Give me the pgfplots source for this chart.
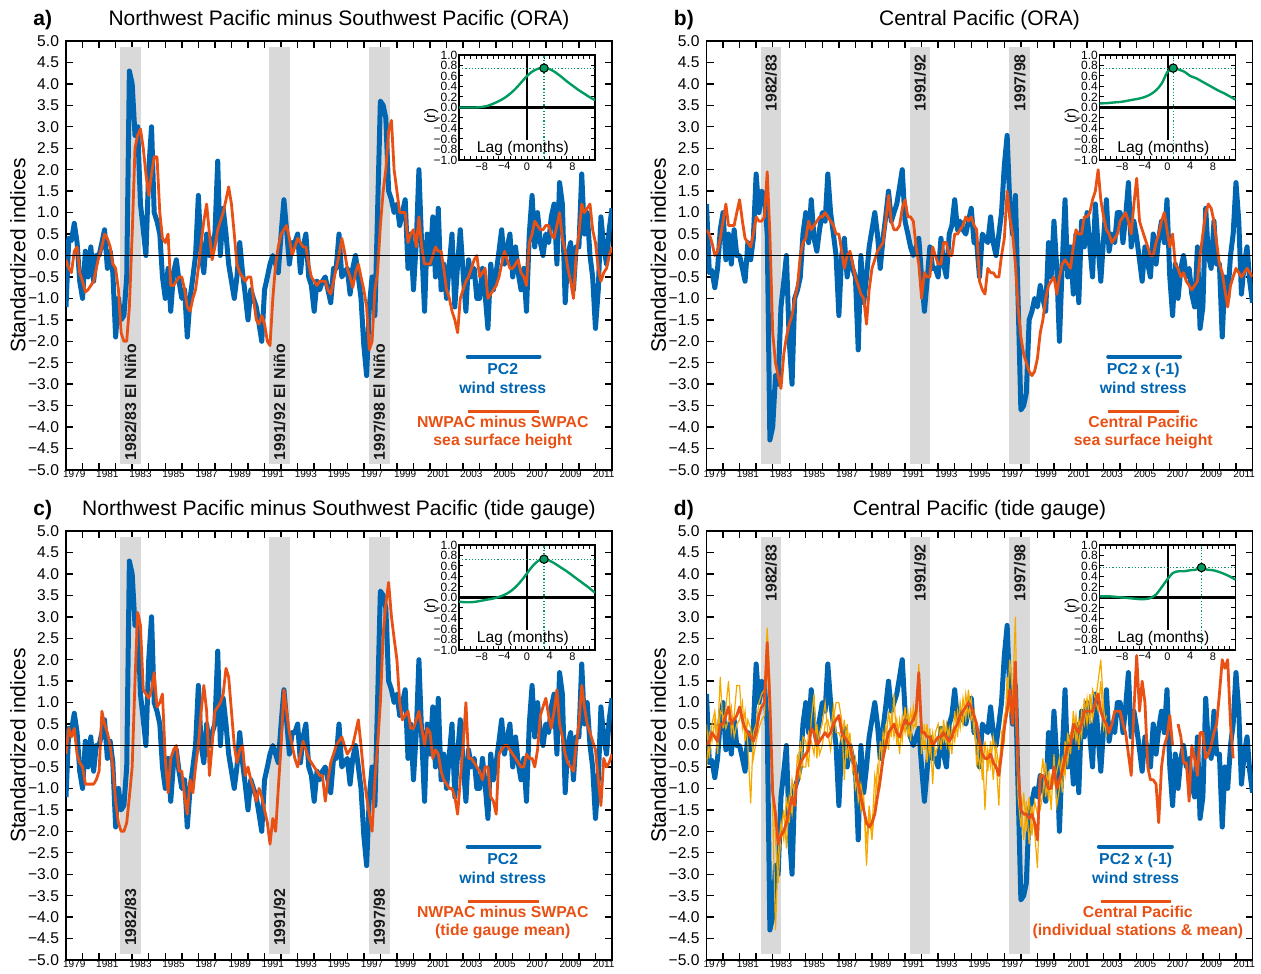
\documentclass[border=0pt]{standalone}
\usepackage{fontspec}
\setmainfont{Liberation Sans}
\usepackage{pgfplots}
\usepackage{pgfplotstable}
\pgfplotsset{compat=1.18}
\definecolor{pcblue}{RGB}{0,102,178}
\definecolor{sshorange}{RGB}{232,80,20}
\definecolor{stayellow}{RGB}{245,168,0}
\definecolor{corrgreen}{RGB}{0,155,95}
\definecolor{bandgray}{RGB}{217,217,217}

\pgfplotstableread{
t pc2 oa ob oc od s1 s2
1979.00 -1.2 -0.1 0.6 -0.2 0.0 0.5 -0.5
1979.17 0.4 -0.3 0.5 0.4 0.1 -0.3 0.3
1979.33 0.35 -0.4 0.3 0.2 0.3 0.5 0.1
1979.50 0.75 0.1 0.0 0.4 0.2 0.8 0.6
1979.67 0.3 0.2 0.1 -0.2 0.1 0.2 -0.2
1979.83 -0.6 -0.4 0.4 -0.4 0.5 1.6 0.8
1980.00 -1.0 -0.6 0.8 -0.5 0.5 0.4 0.7
1980.17 0.1 -0.85 1.2 -0.9 0.7 0.9 0.4
1980.33 -0.5 -0.8 0.7 -0.9 0.9 1.5 0.6
1980.50 0.2 -0.7 0.7 -0.9 0.5 0.3 0.9
1980.67 -0.6 -0.6 0.7 -0.9 0.6 0.7 0.2
1980.83 0.0 -0.3 1.0 -0.8 0.7 1.4 0.5
1981.00 0.0 0.0 1.3 -0.6 0.9 1.4 0.6
1981.17 0.3 0.2 0.8 0.8 0.6 0.4 1.0
1981.33 0.6 0.5 0.4 0.5 0.4 0.8 0.1
1981.50 -0.3 0.4 0.3 0.3 0.3 0.0 0.6
1981.67 0.1 0.2 0.2 0.0 0.2 -1.35 0.4
1981.83 -0.4 -0.2 0.5 -0.5 0.1 0.3 -0.3
1982.00 -1.9 -0.3 0.9 -1.3 0.3 0.5 0.1
1982.17 -1.0 -0.8 0.8 -1.8 0.7 1.0 0.4
1982.33 -1.5 -1.8 0.8 -2.0 0.9 1.2 0.6
1982.50 -1.4 -2.0 0.9 -2.0 1.0 1.3 0.7
1982.67 -0.5 -2.0 1.95 -1.8 2.4 2.75 2.2
1982.83 4.3 -1.2 0.5 -1.2 1.0 1.5 0.6
1983.00 4.0 0.5 -1.8 -0.5 -1.1 -1.5 -0.8
1983.17 2.8 2.5 -2.5 1.5 -1.6 -4.3 -2.2
1983.33 3.0 2.8 -2.8 3.1 -2.3 -2.5 -3.2
1983.50 1.2 2.95 -3.1 2.8 -2.1 -1.8 -2.0
1983.67 0.6 2.5 -2.3 1.3 -2.0 -2.2 -1.5
1983.83 0.0 1.9 -1.9 1.2 -1.8 -1.2 -2.4
1984.00 2.0 1.4 -1.6 1.1 -1.5 -1.8 -1.2
1984.17 3.0 1.9 -1.4 1.3 -1.2 -0.8 -1.6
1984.33 1.0 2.3 -1.0 1.7 -1.4 -1.2 -0.9
1984.50 0.8 2.3 -0.7 0.9 -0.6 -0.2 -0.9
1984.67 0.5 1.0 0.0 1.0 -0.4 -0.8 0.1
1984.83 -0.5 0.4 0.3 1.2 -0.3 0.2 -0.5
1985.00 -1.0 0.3 0.4 -0.3 -0.2 0.1 -0.5
1985.17 -0.3 0.5 0.8 -1.1 -0.1 -0.5 0.3
1985.33 -1.3 -0.7 0.6 -0.3 0.4 0.6 0.1
1985.50 -0.4 -0.7 0.7 -0.1 0.3 1.2 -0.2
1985.67 -0.1 -0.6 0.8 0.0 0.0 -0.3 0.5
1985.83 -0.6 -0.5 0.9 -0.6 0.1 0.3 -0.2
1986.00 -1.0 -0.5 0.9 -0.6 0.2 0.5 0.0
1986.17 -0.8 -0.8 1.0 -1.2 0.3 1.0 0.5
1986.33 -1.9 -1.2 0.9 -1.6 0.2 0.3 0.6
1986.50 -1.0 -1.3 0.8 -0.8 0.3 -0.1 0.3
1986.67 -0.5 -1.0 0.7 -1.1 0.5 0.6 0.9
1986.83 0.0 -0.8 0.5 -0.5 0.6 1.0 0.3
1987.00 1.4 -0.3 0.5 0.0 0.7 1.0 0.3
1987.17 0.0 0.3 0.1 0.8 0.3 0.6 0.1
1987.33 -0.4 0.8 -0.3 1.4 0.2 -0.8 0.6
1987.50 0.5 1.2 0.0 0.8 0.1 0.5 -0.3
1987.67 0.0 0.5 0.1 -0.7 0.0 -0.3 0.3
1987.83 0.3 -0.1 -0.2 0.0 -0.3 -0.1 -0.6
1988.00 0.5 0.2 -0.5 0.8 -0.6 -1.0 -0.3
1988.17 2.2 0.6 -0.7 0.9 -0.9 -0.7 -1.3
1988.33 0.0 0.8 -0.9 1.0 -1.2 -1.5 -0.9
1988.50 1.1 1.0 -1.0 1.2 -1.5 -1.2 -1.3
1988.67 0.5 1.3 -1.6 1.8 -1.8 -2.8 -2.3
1988.83 -0.2 1.6 -0.8 1.6 -1.9 -1.6 -1.4
1989.00 -0.6 1.2 -0.3 0.8 -1.8 -2.2 -2.0
1989.17 -1.0 0.5 -0.1 0.0 -1.6 -1.4 -0.7
1989.33 -0.5 -0.2 0.1 -0.4 -1.2 -0.5 -1.1
1989.50 0.3 -0.4 0.2 -0.1 -0.8 -0.9 0.1
1989.67 -0.4 -0.5 0.3 0.0 -0.3 0.3 -0.4
1989.83 -0.9 -0.6 0.8 -0.7 0.0 0.0 0.5
1990.00 -1.5 -0.5 1.4 -0.5 0.3 0.8 -0.1
1990.17 -0.8 -0.5 0.8 -0.8 0.4 0.2 0.7
1990.33 -1.0 -1.0 0.6 -1.0 0.5 1.2 0.2
1990.50 -1.2 -1.5 0.6 -1.3 0.3 0.0 0.6
1990.67 -1.6 -1.6 0.7 -1.0 0.2 0.6 -0.2
1990.83 -2.0 -1.4 1.1 -1.2 0.4 0.1 0.7
1991.00 -0.8 -1.6 1.3 -1.5 0.6 0.9 0.3
1991.17 -0.5 -2.0 0.9 -1.8 0.5 0.2 0.8
1991.33 -0.2 -2.1 0.9 -2.3 0.5 0.8 0.1
1991.50 0.0 -1.0 0.8 -1.7 0.6 0.4 0.9
1991.67 -0.2 -0.2 0.2 -2.0 0.8 0.6 0.4
1991.83 -0.4 0.2 -0.2 -1.0 1.7 1.9 1.5
1992.00 0.5 0.5 -1.0 0.0 0.3 -0.2 0.6
1992.17 1.3 0.6 -0.4 1.3 0.3 0.5 -0.1
1992.33 0.6 0.7 -0.5 0.8 0.2 -0.4 0.5
1992.50 -0.2 0.4 -0.5 0.3 0.2 0.4 -0.2
1992.67 0.3 0.0 0.2 0.0 0.0 -0.9 0.3
1992.83 0.3 0.2 0.0 -0.3 0.1 0.3 -0.2
1993.00 0.5 0.4 -0.2 -0.5 0.2 0.5 0.0
1993.17 -0.4 0.3 -0.2 -0.2 0.2 -0.1 0.4
1993.33 0.2 0.2 0.3 0.1 0.3 0.6 0.1
1993.50 0.5 0.2 0.3 -0.1 0.2 0.0 0.5
1993.67 -0.5 -0.2 0.0 -0.3 0.1 0.4 -0.1
1993.83 -0.7 -0.5 0.0 -0.4 0.2 -0.2 0.4
1994.00 -1.3 -0.6 0.5 -0.5 0.4 0.8 0.1
1994.17 -0.6 -0.7 0.5 -0.6 0.5 0.2 0.8
1994.33 -0.8 -0.6 0.6 -0.7 0.7 1.0 0.4
1994.50 -0.6 -0.6 0.7 -0.7 0.8 0.5 1.1
1994.67 -0.5 -0.6 0.9 -1.3 0.9 1.2 0.6
1994.83 -0.8 -0.8 0.8 -0.8 1.0 0.7 1.3
1995.00 -1.1 -0.9 0.9 -0.4 0.9 1.1 0.6
1995.17 -0.3 -0.6 0.7 -0.2 0.7 0.3 0.8
1995.33 -0.3 -0.3 0.6 0.0 0.5 0.1 -0.5
1995.50 0.5 0.0 -0.6 0.1 0.1 -0.5 0.2
1995.67 -0.5 0.4 -0.8 0.2 -0.2 0.0 -0.8
1995.83 -0.4 0.1 -0.9 0.0 -0.3 -1.5 0.1
1996.00 -0.3 -0.3 -0.3 -0.2 -0.3 -0.1 -0.6
1996.17 -0.9 -0.5 -0.4 -0.1 -0.2 -0.5 0.1
1996.33 -0.3 -0.75 -0.4 0.0 -0.4 0.2 -0.8
1996.50 0.0 -0.4 -0.5 0.3 -0.5 -0.3 0.0
1996.67 -0.5 -0.2 -0.5 0.6 -0.7 -1.4 -0.5
1996.83 -1.0 -0.5 0.0 0.0 -0.2 0.3 0.1
1997.00 -2.1 -0.8 0.4 -0.7 0.4 0.1 0.7
1997.17 -2.8 -1.2 1.5 -1.2 0.8 1.6 0.9
1997.33 -1.2 -2.2 0.9 -1.6 1.3 0.8 2.0
1997.50 -0.5 -2.0 0.5 -2.0 0.5 1.2 1.2
1997.67 -1.4 -0.8 -0.2 -0.8 1.95 3.0 1.0
1997.83 1.0 -0.4 -1.2 0.0 -0.5 -1.0 -1.2
1998.00 3.6 0.7 -1.9 1.0 -1.5 -1.2 -1.9
1998.17 3.5 1.5 -2.3 2.6 -1.6 -2.2 -1.1
1998.33 3.2 2.0 -2.5 3.3 -1.6 -1.3 -2.0
1998.50 1.5 2.9 -2.7 3.8 -1.7 -2.3 -1.2
1998.67 1.3 3.15 -2.8 3.0 -1.6 -1.4 -2.1
1998.83 1.0 2.0 -2.7 2.5 -1.8 -2.0 -1.3
1999.00 1.2 1.5 -2.4 2.0 -2.2 -2.85 -1.6
1999.17 0.7 1.0 -1.8 1.0 -0.7 -0.9 -1.5
1999.33 1.0 1.0 -1.5 0.6 -0.7 -0.3 -1.1
1999.50 1.3 1.0 -1.0 0.7 -0.8 -1.2 -0.4
1999.67 -0.3 0.3 -0.7 0.8 -1.0 -0.6 -1.3
1999.83 0.5 0.5 -0.6 0.4 -1.0 -1.5 -0.7
2000.00 -0.8 0.6 -0.5 0.4 -0.5 -0.2 -0.9
2000.17 0.3 0.2 -0.9 0.6 -1.0 -1.4 -0.6
2000.33 2.0 0.9 -0.5 0.8 -0.8 -1.0 -0.3
2000.50 0.2 0.2 -0.2 0.4 -0.6 -0.3 -1.1
2000.67 -1.3 -0.2 -0.1 0.0 -0.3 -0.7 0.1
2000.83 0.5 -0.2 -0.2 0.4 0.0 0.3 -0.4
2001.00 -0.2 -0.2 -0.3 0.3 0.0 -0.2 0.3
2001.17 0.9 0.0 0.2 -0.3 0.5 0.8 0.2
2001.33 -0.5 0.2 0.6 -0.1 0.4 0.1 0.7
2001.50 1.1 0.1 0.5 -0.2 0.3 0.6 -0.1
2001.67 -0.8 0.1 0.5 -0.6 0.5 0.2 0.8
2001.83 -0.2 -0.3 0.9 -0.8 0.8 1.1 0.5
2002.00 -1.0 -0.8 0.9 -0.9 0.8 0.5 1.1
2002.17 -0.2 -1.0 1.0 -1.0 0.8 1.2 0.5
2002.33 0.5 -1.3 1.3 -1.0 0.8 0.6 1.3
2002.50 -1.2 -1.5 1.5 -1.2 1.0 1.0 1.1
2002.67 -0.2 -1.8 2.0 -1.6 1.2 1.5 0.8
2002.83 0.6 -1.0 1.3 -0.8 0.8 2.0 1.5
2003.00 -0.4 -0.8 0.9 0.0 0.6 0.9 0.4
2003.17 -1.3 -0.6 0.6 1.0 0.5 0.2 0.7
2003.33 -0.1 -0.5 0.5 -0.3 0.3 nan nan
2003.50 -0.5 -0.3 0.3 -0.3 0.5 nan nan
2003.67 -0.3 -0.1 0.4 -0.4 0.8 nan nan
2003.83 -1.0 0.0 0.5 -0.5 0.8 nan nan
2004.00 -1.0 -0.5 0.8 -0.6 0.8 nan nan
2004.17 -0.3 -0.4 0.9 -0.8 0.5 nan nan
2004.33 -0.9 -0.3 1.0 -0.5 0.3 nan nan
2004.50 -1.7 -1.0 0.8 -0.5 -0.2 nan nan
2004.67 -0.2 -0.9 0.5 -1.2 -0.7 nan nan
2004.83 -0.8 -0.8 1.2 -1.3 0.8 nan nan
2005.00 -0.4 -0.7 1.8 -1.6 2.1 nan nan
2005.17 0.1 -0.5 0.8 -0.2 0.8 nan nan
2005.33 0.6 -0.2 0.6 -0.1 1.5 nan nan
2005.50 -0.2 0.1 0.4 0.0 1.0 nan nan
2005.67 0.2 -0.1 0.2 0.0 -0.5 nan nan
2005.83 0.5 -0.3 0.0 -0.1 -0.8 nan nan
2006.00 -0.5 -0.3 0.0 -0.2 -0.8 nan nan
2006.17 0.2 -0.2 0.3 -0.3 -0.9 nan nan
2006.33 -0.4 -0.1 0.5 -0.4 -1.8 nan nan
2006.50 -0.8 -0.4 0.8 -0.5 -0.5 nan nan
2006.67 -0.3 -0.5 1.0 -0.5 0.0 nan nan
2006.83 -1.3 -0.7 0.6 -0.2 0.2 nan nan
2007.00 0.5 0.3 0.2 -0.3 0.7 nan nan
2007.17 1.4 0.5 0.5 -0.3 0.0 nan nan
2007.33 0.2 0.8 -0.2 -0.5 nan nan nan
2007.50 1.0 0.7 -0.3 -0.1 0.5 nan nan
2007.67 0.3 0.6 -0.5 0.7 0.2 nan nan
2007.83 0.0 0.6 -0.4 0.9 -0.4 nan nan
2008.00 0.5 0.7 -0.6 1.1 -0.4 nan nan
2008.17 0.3 0.7 -0.7 0.7 -1.3 nan nan
2008.33 0.9 0.5 -0.8 0.4 0.0 nan nan
2008.50 1.2 0.4 -0.7 0.8 -0.3 nan nan
2008.67 -0.2 0.7 -0.6 1.3 -0.7 nan nan
2008.83 1.7 1.0 0.0 0.5 0.3 nan nan
2009.00 1.2 0.4 0.5 0.2 0.3 nan nan
2009.17 -1.1 0.1 1.0 -0.2 -0.3 nan nan
2009.33 0.0 -0.3 1.2 -0.4 -0.2 nan nan
2009.50 0.3 -0.6 1.1 -0.5 0.0 nan nan
2009.67 -0.8 -1.0 0.8 -0.6 0.3 nan nan
2009.83 0.2 0.0 0.3 0.0 0.5 nan nan
2010.00 0.2 0.5 -0.2 0.5 1.2 nan nan
2010.17 1.9 1.2 -0.4 1.4 2.0 nan nan
2010.33 0.5 1.0 -0.8 0.9 1.8 nan nan
2010.50 1.0 1.1 -1.2 0.5 2.0 nan nan
2010.67 0.0 1.2 -0.7 0.3 0.5 nan nan
2010.83 -0.5 0.6 -0.5 0.1 -0.3 nan nan
2011.00 -1.7 0.3 -0.3 -0.1 nan nan nan
2011.17 -0.8 -0.3 -0.4 -0.8 nan nan nan
2011.33 0.9 -0.6 -0.5 -1.4 nan nan nan
2011.50 0.2 -0.4 -0.4 -0.3 nan nan nan
2011.67 -0.2 -0.3 -0.3 -0.5 nan nan nan
2011.83 0.6 0.0 -0.4 -0.4 nan nan nan
2012.00 1.1 0.2 -0.5 -0.2 nan nan nan
}\data

\pgfplotstableread{
lag ra rb rc rd
-12 0.00 0.08 -0.08 0.02
-11 0.00 0.08 -0.09 0.02
-10 0.00 0.09 -0.09 0.02
-9 0.00 0.10 -0.08 0.01
-8 0.01 0.11 -0.06 0.00
-7 0.03 0.13 -0.04 -0.01
-6 0.07 0.15 -0.02 -0.02
-5 0.12 0.17 0.01 -0.03
-4 0.18 0.20 0.05 -0.03
-3 0.26 0.25 0.11 -0.01
-2 0.36 0.33 0.20 0.06
-1 0.48 0.46 0.32 0.20
0 0.60 0.68 0.46 0.35
1 0.69 0.75 0.60 0.47
2 0.74 0.72 0.70 0.50
3 0.75 0.68 0.73 0.50
4 0.73 0.60 0.70 0.52
5 0.67 0.56 0.64 0.53
6 0.59 0.50 0.57 0.57
7 0.50 0.44 0.50 0.53
8 0.42 0.38 0.42 0.52
9 0.34 0.32 0.34 0.49
10 0.27 0.27 0.26 0.45
11 0.20 0.21 0.18 0.40
12 0.14 0.15 0.09 0.34
}\lagdata

\pgfplotsset{
  mainax/.style={
    scale only axis, width=273pt, height=214.5pt,
    xmin=1979, xmax=2012, ymin=-5, ymax=5,
    clip mode=individual,
    axis line style={line width=0.9pt},
    every tick/.style={black, line width=0.7pt},
    major tick length=3.5pt, minor tick length=3.5pt,
    xtick={1980,1981,...,2011}, xticklabels={},
    extra x ticks={1979.5,1981.5,1983.5,1985.5,1987.5,1989.5,1991.5,1993.5,1995.5,1997.5,1999.5,2001.5,2003.5,2005.5,2007.5,2009.5,2011.5},
    extra x tick labels={1979,1981,1983,1985,1987,1989,1991,1993,1995,1997,1999,2001,2003,2005,2007,2009,2011},
    extra x tick style={major tick length=0pt, tick style={draw=none}},
    ytick={-5,-4.5,-4,-3.5,-3,-2.5,-2,-1.5,-1,-0.5,0,0.5,1,1.5,2,2.5,3,3.5,4,4.5,5},
    yticklabels={−5.0,−4.5,−4.0,−3.5,−3.0,−2.5,−2.0,−1.5,−1.0,−0.5,0.0,0.5,1.0,1.5,2.0,2.5,3.0,3.5,4.0,4.5,5.0},
    yticklabel style={font=\fontsize{7.8}{9}\selectfont},
    xticklabel style={font=\fontsize{5}{6}\selectfont, inner sep=0.8pt, yshift=0.6pt},
    ylabel={Standardized indices},
    every axis y label/.style={at={(rel axis cs:-0.088,0.5)}, rotate=90, anchor=center, font=\fontsize{10.5}{12}\selectfont},
  },
  insetax/.style={
    scale only axis, width=68pt, height=52.5pt,
    xmin=-12, xmax=12, ymin=-1, ymax=1,
    clip mode=individual,
    axis line style={line width=0.9pt},
    every tick/.style={black, line width=0.5pt},
    xtick={-8,-4,0,4,8}, xticklabels={−8,−4,0,4,8},
    minor xtick={-12,-11,...,12},
    major tick length=2.2pt, minor tick length=2.2pt,
    ytick={-1,-0.8,-0.6,-0.4,-0.2,0,0.2,0.4,0.6,0.8,1},
    yticklabels={−1.0,−0.8,−0.6,−0.4,−0.2,0.0,0.2,0.4,0.6,0.8,1.0},
    yticklabel style={font=\fontsize{6}{6}\selectfont, inner sep=0.6pt},
    xticklabel style={font=\fontsize{5.5}{6}\selectfont, inner sep=1pt},
    ylabel={(r)},
    every axis y label/.style={at={(rel axis cs:-0.205,0.42)}, rotate=90, anchor=center, font=\fontsize{7.5}{8}\selectfont},
  },
  bands/.style={fill=bandgray, draw=none, forget plot},
  bluel/.style={pcblue, line width=2.5pt, line join=round},
  orl/.style={sshorange, line width=1.4pt, line join=round, unbounded coords=jump},
}
\newcommand\bandfills{%
  \addplot[bands] coordinates {(1982.27,-4.85)(1983.53,-4.85)(1983.53,4.85)(1982.27,4.85)};
  \addplot[bands] coordinates {(1991.27,-4.85)(1992.53,-4.85)(1992.53,4.85)(1991.27,4.85)};
  \addplot[bands] coordinates {(1997.31,-4.85)(1998.58,-4.85)(1998.58,4.85)(1997.31,4.85)};
}
\tikzset{
  bl/.style={rotate=90, font=\bfseries\fontsize{7.9}{9}\selectfont, text=black!90, inner sep=0pt},
  lg/.style={anchor=base, font=\bfseries\fontsize{7.9}{9}\selectfont, inner sep=0pt},
  tt/.style={anchor=base, font=\fontsize{10.5}{12}\selectfont, inner sep=0pt},
  tl/.style={anchor=base west, font=\bfseries\fontsize{10.5}{12}\selectfont, inner sep=0pt},
}
\newcommand\lagdeco[2]{%
  \addplot[black, line width=1.5pt] coordinates {(-12,0)(12,0)};
  \addplot[black, line width=1pt] coordinates {(0,1)(0,-0.62)};
  \addplot[corrgreen, densely dotted, line width=0.6pt] coordinates {(-12,#2)(12,#2)};
  \addplot[corrgreen, densely dotted, line width=0.6pt] coordinates {(#1,-1)(#1,1)};
}
\newcommand\lagpeak[2]{%
  \addplot[only marks, mark=*, mark size=2.1pt, mark options={fill=corrgreen, draw=black, line width=0.5pt}] coordinates {(#1,#2)};
  \node[anchor=base, font=\fontsize{7.8}{8}\selectfont, inner sep=0pt] at (rel axis cs:0.47,0.07) {Lag (months)};
}

\begin{document}
\begin{tikzpicture}
\useasboundingbox (0,0) rectangle (630.5pt,486.5pt);

% ---------------- panel a
\begin{axis}[mainax, at={(33pt,251.5pt)}, anchor=south west]
  \bandfills
  \addplot[bluel] table[x=t,y=pc2]{\data};
  \addplot[orl] table[x=t,y=oa]{\data};
  \addplot[black, line width=0.7pt] coordinates {(1979,0)(2012,0)};
  \node[bl, anchor=west] at (axis cs:1982.9,-4.78) {1982/83 El Niño};
  \node[bl, anchor=west] at (axis cs:1991.9,-4.78) {1991/92 El Niño};
  \node[bl, anchor=west] at (axis cs:1997.94,-4.78) {1997/98 El Niño};
  \draw[pcblue, line width=2.2pt, line cap=round] (rel axis cs:0.736,0.264) -- (rel axis cs:0.867,0.264);
  \node[lg, text=pcblue] at (rel axis cs:0.80,0.223) {PC2};
  \node[lg, text=pcblue] at (rel axis cs:0.80,0.179) {wind stress};
  \draw[sshorange, line width=1.3pt] (rel axis cs:0.736,0.136) -- (rel axis cs:0.866,0.136);
  \node[lg, text=sshorange] at (rel axis cs:0.80,0.0986) {NWPAC minus SWPAC};
  \node[lg, text=sshorange] at (rel axis cs:0.80,0.056) {sea surface height};
  \node[tt] at (rel axis cs:0.5,1.0373) {Northwest Pacific minus Southwest Pacific (ORA)};
  \node[tl] at (rel axis cs:-0.0604,1.0373) {a)};
\end{axis}
\begin{axis}[insetax, at={(229.5pt,406.5pt)}, anchor=south west]
  \lagdeco{3}{0.75}
  \addplot[corrgreen, line width=1.2pt, smooth] table[x=lag,y=ra]{\lagdata};
  \lagpeak{3}{0.75}
\end{axis}

% ---------------- panel b
\begin{axis}[mainax, at={(353.25pt,251.5pt)}, anchor=south west]
  \bandfills
  \addplot[bluel] table[x=t,y expr=-\thisrow{pc2}]{\data};
  \addplot[orl] table[x=t,y=ob]{\data};
  \addplot[black, line width=0.7pt] coordinates {(1979,0)(2012,0)};
  \node[bl, anchor=east] at (axis cs:1982.9,4.7) {1982/83};
  \node[bl, anchor=east] at (axis cs:1991.9,4.7) {1991/92};
  \node[bl, anchor=east] at (axis cs:1997.94,4.7) {1997/98};
  \draw[pcblue, line width=2.2pt, line cap=round] (rel axis cs:0.736,0.264) -- (rel axis cs:0.867,0.264);
  \node[lg, text=pcblue] at (rel axis cs:0.80,0.223) {PC2 x (-1)};
  \node[lg, text=pcblue] at (rel axis cs:0.80,0.179) {wind stress};
  \draw[sshorange, line width=1.3pt] (rel axis cs:0.736,0.136) -- (rel axis cs:0.866,0.136);
  \node[lg, text=sshorange] at (rel axis cs:0.80,0.0986) {Central Pacific};
  \node[lg, text=sshorange] at (rel axis cs:0.80,0.056) {sea surface height};
  \node[tt] at (rel axis cs:0.5,1.0373) {Central Pacific (ORA)};
  \node[tl] at (rel axis cs:-0.0604,1.0373) {b)};
\end{axis}
\begin{axis}[insetax, at={(549.75pt,406.5pt)}, anchor=south west]
  \lagdeco{1}{0.75}
  \addplot[corrgreen, line width=1.2pt, smooth] table[x=lag,y=rb]{\lagdata};
  \lagpeak{1}{0.75}
\end{axis}

% ---------------- panel c
\begin{axis}[mainax, at={(33pt,6.5pt)}, anchor=south west]
  \bandfills
  \addplot[bluel] table[x=t,y=pc2]{\data};
  \addplot[orl] table[x=t,y=oc]{\data};
  \addplot[black, line width=0.7pt] coordinates {(1979,0)(2012,0)};
  \node[bl, anchor=west] at (axis cs:1982.9,-4.68) {1982/83};
  \node[bl, anchor=west] at (axis cs:1991.9,-4.68) {1991/92};
  \node[bl, anchor=west] at (axis cs:1997.94,-4.68) {1997/98};
  \draw[pcblue, line width=2.2pt, line cap=round] (rel axis cs:0.736,0.264) -- (rel axis cs:0.867,0.264);
  \node[lg, text=pcblue] at (rel axis cs:0.80,0.223) {PC2};
  \node[lg, text=pcblue] at (rel axis cs:0.80,0.179) {wind stress};
  \draw[sshorange, line width=1.3pt] (rel axis cs:0.736,0.136) -- (rel axis cs:0.866,0.136);
  \node[lg, text=sshorange] at (rel axis cs:0.80,0.0986) {NWPAC minus SWPAC};
  \node[lg, text=sshorange] at (rel axis cs:0.80,0.056) {(tide gauge mean)};
  \node[tt] at (rel axis cs:0.5,1.0373) {Northwest Pacific minus Southwest Pacific (tide gauge)};
  \node[tl] at (rel axis cs:-0.0604,1.0373) {c)};
\end{axis}
\begin{axis}[insetax, at={(229.5pt,161.5pt)}, anchor=south west]
  \lagdeco{3}{0.73}
  \addplot[corrgreen, line width=1.2pt, smooth] table[x=lag,y=rc]{\lagdata};
  \lagpeak{3}{0.73}
\end{axis}

% ---------------- panel d
\begin{axis}[mainax, at={(353.25pt,6.5pt)}, anchor=south west]
  \bandfills
  \addplot[bluel] table[x=t,y expr=-\thisrow{pc2}]{\data};
  \addplot[stayellow, line width=0.6pt, unbounded coords=jump] table[x=t,y=s1]{\data};
  \addplot[stayellow, line width=0.6pt, unbounded coords=jump] table[x=t,y=s2]{\data};
  \addplot[orl] table[x=t,y=od]{\data};
  \addplot[black, line width=0.7pt] coordinates {(1979,0)(2012,0)};
  \node[bl, anchor=east] at (axis cs:1982.9,4.7) {1982/83};
  \node[bl, anchor=east] at (axis cs:1991.9,4.7) {1991/92};
  \node[bl, anchor=east] at (axis cs:1997.94,4.7) {1997/98};
  \draw[pcblue, line width=2.2pt, line cap=round] (rel axis cs:0.719,0.264) -- (rel axis cs:0.852,0.264);
  \node[lg, text=pcblue] at (rel axis cs:0.786,0.223) {PC2 x (-1)};
  \node[lg, text=pcblue] at (rel axis cs:0.786,0.179) {wind stress};
  \draw[sshorange, line width=1.3pt] (rel axis cs:0.722,0.136) -- (rel axis cs:0.850,0.136);
  \node[lg, text=sshorange] at (rel axis cs:0.790,0.0986) {Central Pacific};
  \node[lg, text=sshorange] at (rel axis cs:0.790,0.056) {(individual stations \& mean)};
  \node[tt] at (rel axis cs:0.5,1.0373) {Central Pacific (tide gauge)};
  \node[tl] at (rel axis cs:-0.0604,1.0373) {d)};
\end{axis}
\begin{axis}[insetax, at={(549.75pt,161.5pt)}, anchor=south west]
  \lagdeco{6}{0.57}
  \addplot[corrgreen, line width=1.2pt, smooth] table[x=lag,y=rd]{\lagdata};
  \lagpeak{6}{0.57}
\end{axis}
\end{tikzpicture}
\end{document}
